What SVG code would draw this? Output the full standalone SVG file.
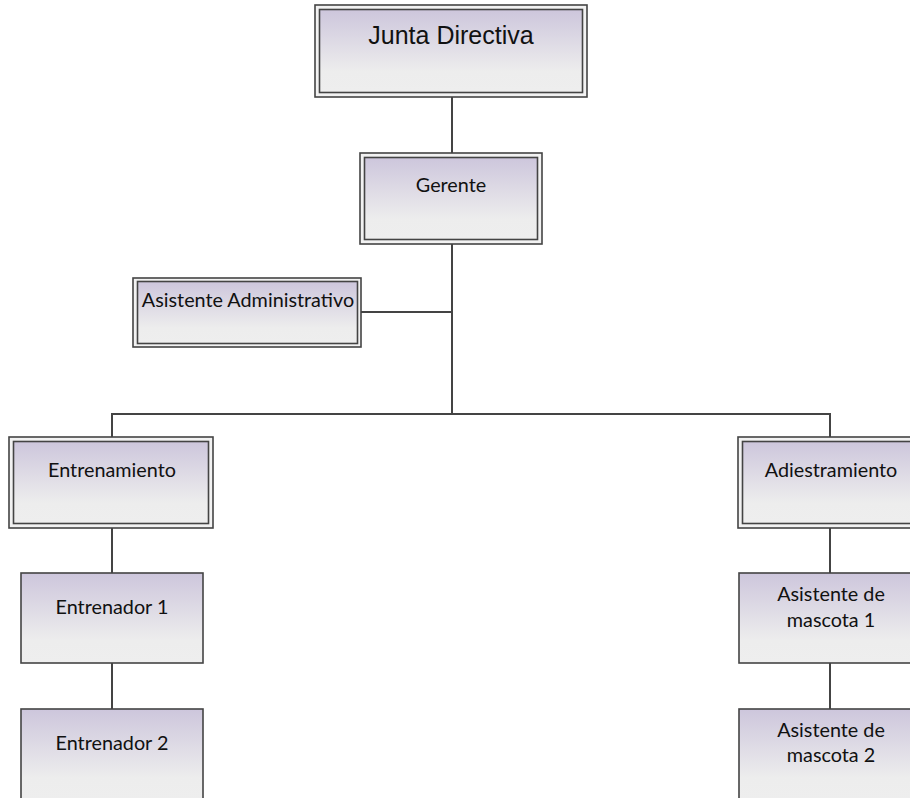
<svg xmlns="http://www.w3.org/2000/svg" width="910" height="798" viewBox="0 0 910 798">
<defs>
<linearGradient id="g" x1="0" y1="0" x2="0" y2="1">
<stop offset="0" stop-color="#cdc6dc"/>
<stop offset="0.75" stop-color="#ededed"/>
<stop offset="1" stop-color="#eeeeee"/>
</linearGradient>
</defs>
<style>
.o{fill:#f2f2f2;stroke:#444;stroke-width:1.6}
.i{fill:url(#g);stroke:#444;stroke-width:1.6}
.s{fill:url(#g);stroke:#444;stroke-width:1.6}
.t{font-family:Lato,"Open Sans","Noto Sans",sans-serif;font-size:19.8px;fill:#111;text-anchor:middle}
.c{stroke:#444;stroke-width:2;fill:none}
</style>
<rect width="910" height="798" fill="#fff"/>
<g id="connectors">
<line class="c" x1="452" y1="97" x2="452" y2="153"/>
<line class="c" x1="452" y1="244" x2="452" y2="414"/>
<line class="c" x1="361" y1="312" x2="452" y2="312"/>
<polyline class="c" points="112,437 112,414 830,414 830,437"/>
<line class="c" x1="112" y1="528" x2="112" y2="573"/>
<line class="c" x1="112" y1="663" x2="112" y2="709"/>
<line class="c" x1="830" y1="528" x2="830" y2="573"/>
<line class="c" x1="830" y1="663" x2="830" y2="709"/>
</g>
<g id="junta">
<rect class="o" x="315" y="5" width="272" height="92"/>
<rect class="i" x="319.5" y="9.5" width="263" height="83"/>
<text x="451" y="44" style="font-family:'Liberation Sans',Arial,sans-serif;font-size:25px;fill:#111;text-anchor:middle">Junta Directiva</text>
</g>
<g id="gerente">
<rect class="o" x="360" y="153" width="182" height="91"/>
<rect class="i" x="364.5" y="157.5" width="173" height="82"/>
<text class="t" x="451" y="192">Gerente</text>
</g>
<g id="asistente-admin">
<rect class="o" x="133" y="278" width="228" height="69"/>
<rect class="i" x="137.5" y="281.5" width="220" height="62"/>
<text class="t" x="248" y="307">Asistente Administrativo</text>
</g>
<g id="entrenamiento">
<rect class="o" x="9" y="437" width="204" height="91"/>
<rect class="i" x="13.5" y="441.5" width="195" height="82"/>
<text class="t" x="112" y="477">Entrenamiento</text>
</g>
<g id="adiestramiento">
<rect class="o" x="738" y="437" width="184" height="91"/>
<rect class="i" x="742.5" y="441.5" width="175" height="82"/>
<text class="t" x="831" y="477">Adiestramiento</text>
</g>
<g id="entrenador1">
<rect class="s" x="21" y="573" width="182" height="90"/>
<text class="t" x="112" y="614">Entrenador 1</text>
</g>
<g id="entrenador2">
<rect class="s" x="21" y="709" width="182" height="92"/>
<text class="t" x="112" y="750">Entrenador 2</text>
</g>
<g id="mascota1">
<rect class="s" x="739" y="573" width="184" height="90"/>
<text class="t" x="831" y="601">Asistente de</text>
<text class="t" x="831" y="627">mascota 1</text>
</g>
<g id="mascota2">
<rect class="s" x="739" y="709" width="184" height="92"/>
<text class="t" x="831" y="737">Asistente de</text>
<text class="t" x="831" y="762">mascota 2</text>
</g>
</svg>
